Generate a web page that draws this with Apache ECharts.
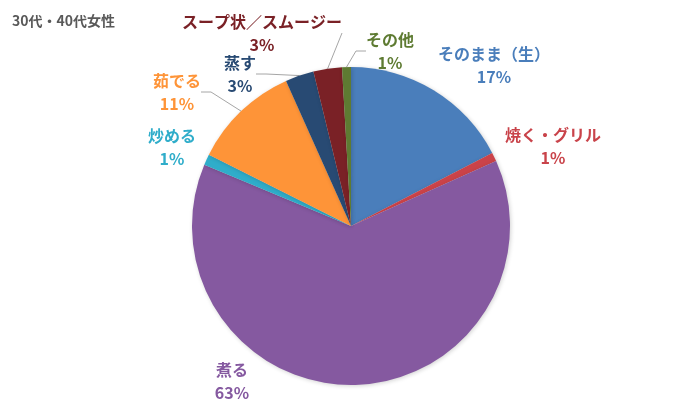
<!DOCTYPE html>
<html>
<head>
<meta charset="utf-8">
<script src="https://cdn.jsdelivr.net/npm/echarts@6/dist/echarts.min.js"></script>
<style>
  html, body { margin: 0; padding: 0; background: #fff; }
  #chart { width: 700px; height: 420px; }
</style>
</head>
<body>
<div id="chart"></div>
<script>
var titleText = '30代・40代女性';
var categories = ['そのまま（生）', '焼く・グリル', '煮る', '炒める', '茹でる', '蒸す', 'スープ状／スムージー', 'その他'];
var values = [17.4, 0.9, 63.0, 1.1, 10.9, 2.9, 2.9, 0.9];
var sliceColors = ['#4a7ebb', '#cb4349', '#8559a0', '#2fadca', '#fe9438', '#284a73', '#7a2126', '#5e7b32'];
var labelColors = ['#4a7ebb', '#c9434a', '#8559a0', '#2fadca', '#fe9438', '#284a73', '#7a2126', '#5e7b32'];
var showLines = [false, false, false, false, true, true, true, true];

// label block centres (layout, not data)
var labelPos = [
  [494, 65], [553, 146], [232, 381], [172, 147],
  [177, 92], [240, 74], [262, 33], [390, 51]
];

var data = categories.map(function (c, i) {
  return {
    name: c,
    value: values[i],
    itemStyle: { color: sliceColors[i] },
    label: { color: labelColors[i] },
    labelLine: { show: showLines[i] }
  };
});

var chart = echarts.init(document.getElementById('chart'), null, { renderer: 'canvas' });
chart.setOption({
  animation: false,
  backgroundColor: '#ffffff',
  title: {
    text: titleText,
    left: 7,
    top: 9,
    textStyle: { fontFamily: 'Noto Sans CJK JP', fontSize: 14, fontWeight: 'bold', color: '#595959' }
  },
  series: [{
    type: 'pie',
    center: [351, 226],
    radius: [0, 159],
    startAngle: 90,
    clockwise: true,
    avoidLabelOverlap: false,
    data: data,
    itemStyle: {
      borderWidth: 0,
      shadowBlur: 4,
      shadowColor: 'rgba(0,0,0,0.18)',
      shadowOffsetX: 1,
      shadowOffsetY: 1
    },
    label: {
      show: true,
      position: 'outside',
      fontFamily: 'Noto Sans CJK JP',
      fontSize: 16,
      fontWeight: 'bold',
      lineHeight: 23,
      align: 'center',
      formatter: function (p) {
        return p.name + '\n' + Math.round(p.percent) + '%';
      }
    },
    labelLine: {
      show: true,
      length: 10,
      length2: 10,
      lineStyle: { color: '#a6a6a6', width: 1 }
    },
    labelLayout: function (params) {
      var pos = labelPos[params.dataIndex];
      return { x: pos[0], y: pos[1], align: 'center', verticalAlign: 'middle' };
    }
  }]
});
</script>
</body>
</html>
